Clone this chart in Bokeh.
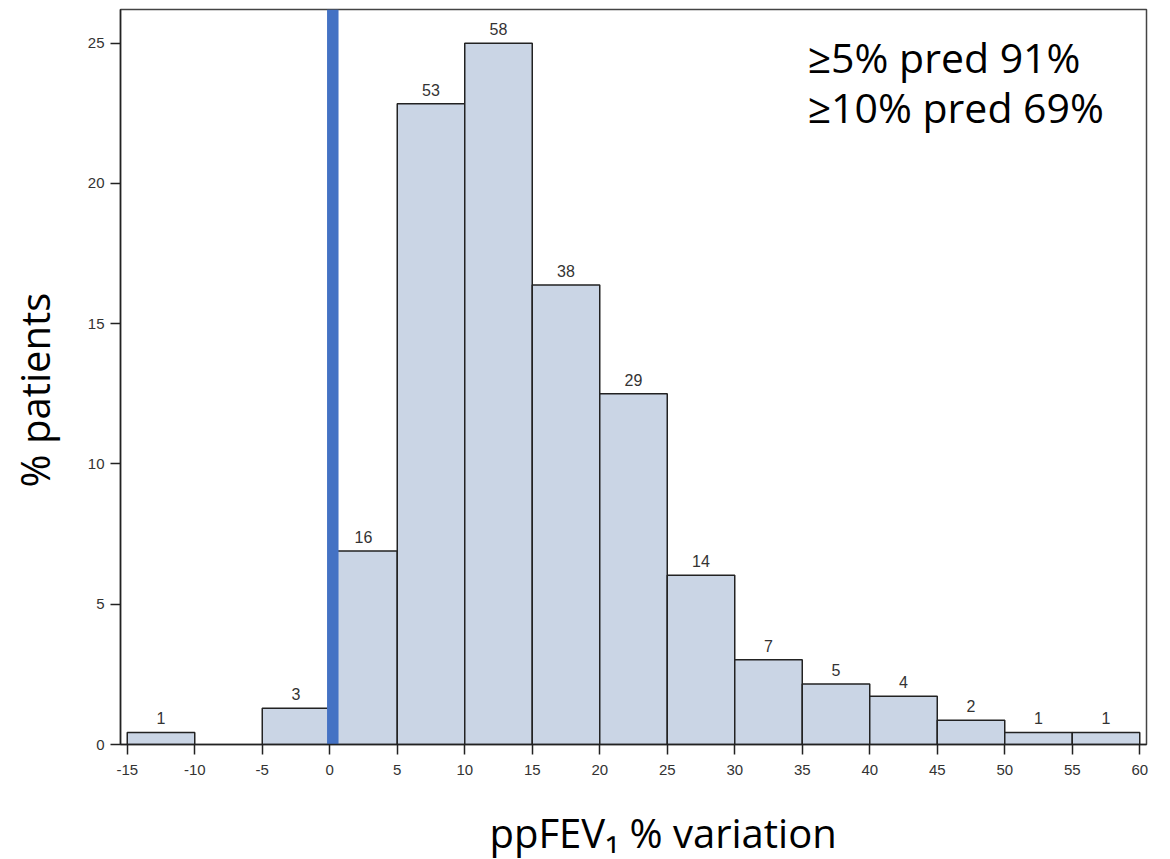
from bokeh.plotting import figure
from bokeh.models import ColumnDataSource, FixedTicker, Range1d, Label, Title
from bokeh.embed import file_html
from bokeh.resources import INLINE
from bokeh.core.properties import value

# ---- data ----
bin_left = [-15, -10, -5, 0, 5, 10, 15, 20, 25, 30, 35, 40, 45, 50, 55]
bin_right = [-10, -5, 0, 5, 10, 15, 20, 25, 30, 35, 40, 45, 50, 55, 60]
counts = [1, 0, 3, 16, 53, 58, 38, 29, 14, 7, 5, 4, 2, 1, 1]
percent_patients = [0.43, 0.0, 1.29, 6.90, 22.84, 25.00, 16.38, 12.50, 6.03, 3.02, 2.16, 1.72, 0.86, 0.43, 0.43]
x_ticks = [-15, -10, -5, 0, 5, 10, 15, 20, 25, 30, 35, 40, 45, 50, 55, 60]
y_ticks = [0, 5, 10, 15, 20, 25]
ref_line_left = -0.2
ref_line_right = 0.65
annotation_lines = ["\u22655% pred 91%", "\u226510% pred 69%"]
x_title = "ppFEV\u2081 % variation"
y_title = "% patients"

X_MIN, X_MAX = -15.5, 60.5
Y_MIN, Y_MAX = 0.0, 26.2

BAR_FILL = "#CAD5E5"
BLUE = "#4472C4"
TXT = "#333333"
TICK_FONT = "Liberation Sans"
BIG_FONT = "Open Sans"

keep = [i for i, c in enumerate(counts) if c > 0]
src = ColumnDataSource(dict(
    left=[bin_left[i] for i in keep],
    right=[bin_right[i] for i in keep],
    top=[percent_patients[i] for i in keep],
    mid=[(bin_left[i] + bin_right[i]) / 2 for i in keep],
    label=[str(counts[i]) for i in keep],
))

p = figure(width=1165, height=859, output_backend="svg", toolbar_location=None,
           x_range=Range1d(X_MIN, X_MAX), y_range=Range1d(Y_MIN, Y_MAX),
           min_border_left=120, min_border_right=19, min_border_top=9, min_border_bottom=115)
p.background_fill_color = "white"
p.border_fill_color = "white"
p.outline_line_color = "#444444"
p.outline_line_width = 1.5
p.xgrid.visible = False
p.ygrid.visible = False

p.quad(left="left", right="right", bottom=0, top="top", source=src,
       fill_color=BAR_FILL, line_color="#222222", line_width=1.5)

p.quad(left=[ref_line_left], right=[ref_line_right], bottom=[Y_MIN], top=[Y_MAX],
       fill_color=BLUE, line_color=None)

p.text(x="mid", y="top", text="label", source=src, text_align="center",
       text_baseline="alphabetic", y_offset=-14, text_font=value(TICK_FONT),
       text_font_size="16px", text_color=TXT)

for ax, ticks in ((p.xaxis[0], x_ticks), (p.yaxis[0], y_ticks)):
    ax.ticker = FixedTicker(ticks=ticks)
    ax.major_label_overrides = {t: str(t) for t in ticks}
    ax.minor_tick_line_color = None
    ax.major_tick_in = 0
    ax.major_tick_out = 10
    ax.major_tick_line_color = "#222222"
    ax.major_tick_line_width = 1.5
    ax.axis_line_color = "#222222"
    ax.axis_line_width = 1.5
    ax.major_label_text_font = TICK_FONT
    ax.major_label_text_font_size = "15px"
    ax.major_label_text_color = TXT
    # blank spacer label (keeps the titles placed as in the reference)
    ax.axis_label = "\u00a0"
    ax.axis_label_text_font = BIG_FONT
    ax.axis_label_text_font_size = "10px"
p.xaxis.major_label_standoff = 10
p.yaxis.major_label_standoff = 6
p.xaxis.axis_label_standoff = 8
p.yaxis.axis_label_standoff = 6

# annotation text (top right)
for i, line in enumerate(annotation_lines):
    p.add_layout(Label(x=35.4, y=24.52 - i * 1.78, text=line, text_font=BIG_FONT,
                       text_font_size="41px", text_color="black",
                       text_baseline="alphabetic", text_align="left"))

# axis titles
p.add_layout(Title(text=x_title, align="left", offset=369, standoff=0,
                   text_font=BIG_FONT, text_font_size="40px", text_font_style="normal",
                   text_color="black"), "below")
p.add_layout(Title(text=y_title, align="left", offset=257, standoff=0,
                   text_font=BIG_FONT, text_font_size="40px", text_font_style="normal",
                   text_color="black"), "left")

open("out.html", "w").write(file_html(p, INLINE))
